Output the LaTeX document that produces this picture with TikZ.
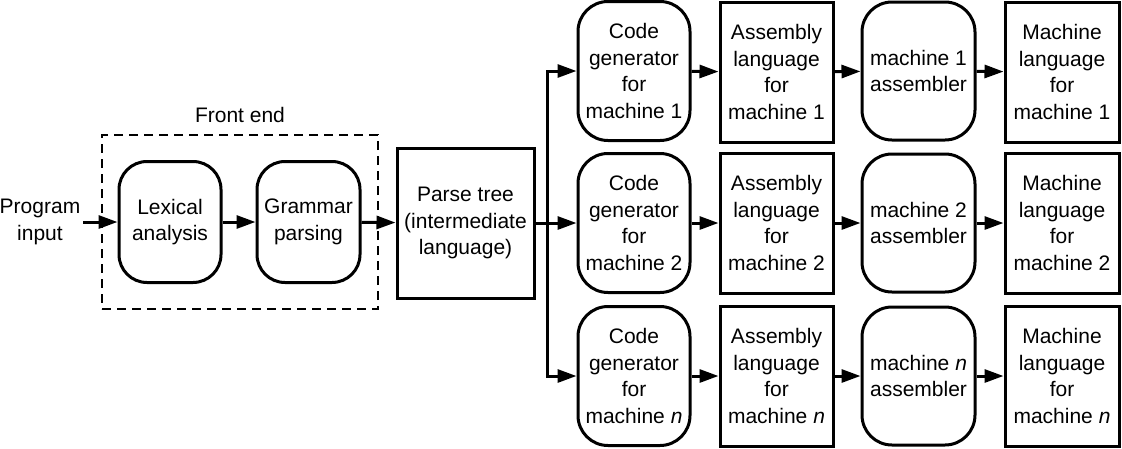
\documentclass[tikz,border=0pt]{standalone}
\usepackage{fontspec}
\setmainfont{Liberation Sans}
\usetikzlibrary{arrows.meta}
\begin{document}
\begin{tikzpicture}[x=1pt,y=-1pt,
  every node/.style={font=\fontsize{21}{26.5}\selectfont, align=center, inner sep=0pt},
  roundbox/.style={draw, line width=3pt, rounded corners=30pt, minimum width=112pt, minimum height=139pt},
  sqbox/.style={draw, line width=3pt, minimum width=113pt, minimum height=140pt},
  arr/.style={line width=3pt, -{Triangle[length=19pt,width=13pt]}},
  ln/.style={line width=3pt}]
\useasboundingbox (0,0) rectangle (1122,448);
\node (in) at (40,222) {Program\\input};
\node[draw, dashed, line width=2.5pt, dash pattern=on 9pt off 6pt, minimum width=276pt, minimum height=174pt] (fe) at (240,222) {};
\node (fel) at (240,115) {Front end};
\node[roundbox, minimum width=102pt, minimum height=121pt, rounded corners=28pt] (lex) at (170,222) {Lexical\\analysis};
\node[roundbox, minimum width=103pt, minimum height=121pt, rounded corners=28pt] (gram) at (308.5,222) {Grammar\\parsing};
\node[sqbox, minimum width=137pt, minimum height=150pt] (parse) at (465.5,223) {Parse tree\\(intermediate\\language)};
\coordinate (br) at (547,223);

\node[roundbox] (cg1) at (634,71) {Code\\generator\\for\\machine 1};
\node[roundbox] (cg2) at (634,223) {Code\\generator\\for\\machine 2};
\node[roundbox] (cg3) at (634,376) {Code\\generator\\for\\machine \textit{n}};

\node[sqbox] (as1) at (776.5,72) {Assembly\\language\\for\\machine 1};
\node[sqbox] (as2) at (776.5,223) {Assembly\\language\\for\\machine 2};
\node[sqbox] (as3) at (776.5,376) {Assembly\\language\\for\\machine \textit{n}};

\node[roundbox, minimum width=113pt, minimum height=138pt] (am1) at (918.5,71) {machine 1\\assembler};
\node[roundbox, minimum width=113pt, minimum height=138pt] (am2) at (918.5,223) {machine 2\\assembler};
\node[roundbox, minimum width=113pt, minimum height=138pt] (am3) at (918.5,376) {machine \textit{n}\\assembler};

\node[sqbox, minimum width=114pt] (ml1) at (1062,72) {Machine\\language\\for\\machine 1};
\node[sqbox, minimum width=114pt] (ml2) at (1062,223) {Machine\\language\\for\\machine 2};
\node[sqbox, minimum width=114pt] (ml3) at (1062,376) {Machine\\language\\for\\machine \textit{n}};

\draw[arr] (in.east) ++(3,0) coordinate (ins) (ins) -- (lex.west);
\draw[arr] (lex) -- (gram);
\draw[arr] (gram) -- (parse);
\draw[ln] (parse.east) -- (br);
\draw[arr] (br) |- (cg1.west);
\draw[arr] (br) -- (cg2.west);
\draw[arr] (br) |- (cg3.west);
\foreach \i in {1,2,3}{
  \draw[arr] (cg\i) -- (as\i);
  \draw[arr] (as\i) -- (am\i);
  \draw[arr] (am\i) -- (ml\i);
}
\end{tikzpicture}
\end{document}
